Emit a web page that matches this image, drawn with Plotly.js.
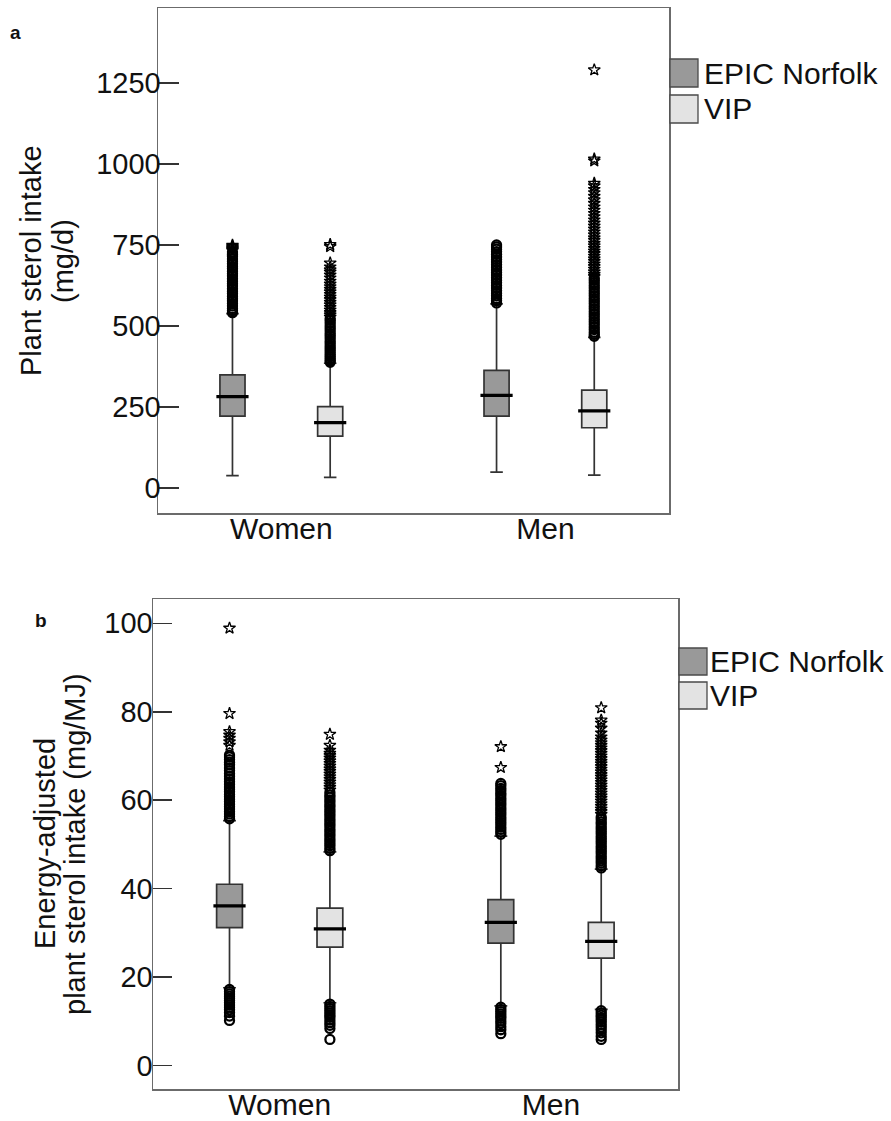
<!DOCTYPE html>
<html>
<head>
<meta charset="utf-8">
<script src="https://cdn.plot.ly/plotly-3.0.1.min.js"></script>
<style>html,body{margin:0;padding:0;background:#fff;}#chart{width:891px;height:1121px;}</style>
</head>
<body>
<div id="chart"></div>
<script>
// ---------- DATA ----------
const categories = ['Women', 'Men'];
const groups = ['EPIC Norfolk', 'VIP'];

// Panel a: plant sterol intake (mg/d)
const aEpicQ1 = [222, 222];
const aEpicMedian = [282, 286];
const aEpicQ3 = [349, 363];
const aEpicLower = [38, 49];
const aEpicUpper = [538, 568];
const aVipQ1 = [160, 186];
const aVipMedian = [202, 238];
const aVipQ3 = [251, 302];
const aVipLower = [33, 40];
const aVipUpper = [385, 465];

// panel a outliers (circles) and extremes (asterisks)
const aWomenEpicOut = [541, 547, 554, 562, 569, 577, 584, 592, 600, 607, 615, 623, 630, 638, 646, 654, 661, 669, 677, 684, 692, 700, 707, 715, 722, 728];
const aWomenEpicExt = [733, 737, 741, 745, 749];
const aWomenVipOut = [388, 393, 399, 405, 411, 418, 425, 432, 439, 447, 454, 462, 470, 477, 485, 493, 501, 509, 517, 523];
const aWomenVipExt = [527, 534, 541, 549, 557, 565, 573, 581, 589, 597, 605, 613, 621, 629, 638, 648, 657, 666, 673, 682, 694, 745, 751];
const aMenEpicOut = [571, 578, 585, 593, 601, 609, 617, 625, 633, 641, 649, 657, 665, 673, 681, 689, 697, 705, 713, 721, 729, 737, 744, 750];
const aMenVipOut = [468, 474, 481, 489, 497, 505, 513, 521, 529, 537, 545, 553, 561, 569, 577, 585, 593, 601, 609, 617, 625, 633, 641, 648];
const aMenVipExt = [652, 659, 667, 675, 683, 691, 699, 707, 715, 723, 731, 739, 747, 755, 764, 772, 781, 790, 799, 808, 817, 827, 837, 847, 857, 867, 878, 889, 900, 911, 921, 932, 940, 1009, 1015, 1290];

// Panel b: energy-adjusted plant sterol intake (mg/MJ)
const bEpicQ1 = [31.2, 27.7];
const bEpicMedian = [36.1, 32.4];
const bEpicQ3 = [41.0, 37.5];
const bEpicLower = [17.6, 13.5];
const bEpicUpper = [55.4, 51.9];
const bVipQ1 = [26.8, 24.3];
const bVipMedian = [30.9, 28.1];
const bVipQ3 = [35.6, 32.4];
const bVipLower = [14.2, 12.7];
const bVipUpper = [48.3, 44.4];

const bWomenEpicOut = [55.8, 56.3, 56.9, 57.4, 58.0, 58.5, 59.1, 59.7, 60.2, 60.8, 61.3, 61.9, 62.5, 63.0, 63.6, 64.2, 64.8, 65.4, 66.0, 66.7, 67.3, 68.0, 68.6, 69.2, 69.8, 70.2,
                       17.2, 16.7, 16.2, 15.7, 15.2, 14.7, 14.2, 13.7, 13.2, 12.6, 12.0, 11.2, 10.2];
const bWomenEpicExt = [72.4, 73.2, 74.0, 74.7, 75.5, 79.6, 98.9];
const bWomenVipOut = [48.6, 49.1, 49.7, 50.2, 50.8, 51.3, 51.9, 52.4, 53.0, 53.5, 54.1, 54.6, 55.2, 55.7, 56.3, 56.8, 57.4, 57.9, 58.5, 59.0, 59.6, 60.1, 60.7, 61.2, 61.8,
                      13.9, 13.4, 12.9, 12.4, 11.9, 11.4, 10.9, 10.3, 9.7, 9.1, 8.4, 5.9];
const bWomenVipExt = [62.3, 62.9, 63.5, 64.1, 64.7, 65.3, 65.9, 66.5, 67.1, 67.7, 68.3, 68.9, 69.5, 70.1, 70.6, 71.3, 72.4, 74.9];
const bMenEpicOut = [52.3, 52.8, 53.4, 53.9, 54.5, 55.0, 55.6, 56.1, 56.7, 57.2, 57.8, 58.3, 58.9, 59.4, 60.0, 60.5, 61.1, 61.6, 62.2, 62.7, 63.3, 63.8,
                     13.2, 12.7, 12.2, 11.7, 11.2, 10.7, 10.1, 9.5, 8.8, 8.1, 7.2];
const bMenEpicExt = [67.4, 72.1];
const bMenVipOut = [44.7, 45.2, 45.8, 46.3, 46.9, 47.4, 48.0, 48.5, 49.1, 49.6, 50.2, 50.7, 51.3, 51.8, 52.4, 52.9, 53.5, 54.0, 54.6, 55.1, 55.7, 56.2,
                    12.4, 11.9, 11.4, 10.9, 10.4, 9.9, 9.3, 8.7, 8.1, 7.4, 6.6, 5.9];
const bMenVipExt = [56.8, 57.4, 58.0, 58.6, 59.2, 59.8, 60.4, 61.0, 61.6, 62.2, 62.8, 63.4, 64.0, 64.6, 65.2, 65.8, 66.4, 67.0, 67.6, 68.2, 68.8, 69.4, 70.0, 70.6, 71.2, 71.8, 72.4, 73.0, 73.6, 74.3, 75.2, 76.3, 77.4, 78.1, 80.9];

const aTicks = [0, 250, 500, 750, 1000, 1250];
const bTicks = [0, 20, 40, 60, 80, 100];
const aTitleLines = ['Plant sterol intake', '(mg/d)'];
const bTitleLines = ['Energy-adjusted', 'plant sterol intake (mg/MJ)'];

// ---------- STYLE ----------
const W = 891, H = 1121;
const FONT = 'Liberation Sans, Arial, sans-serif';
const epicColor = '#999999';
const vipColor = '#e3e3e3';
const boxLine = '#333333';
const frameColor = '#6b6b6b';
const groupOffset = [-0.185, 0.185];
const boxWidth = 0.095;
const px2x = p => p / W;
const px2y = p => 1 - p / H;

const traces = [];

function addPanel(xa, ya, stats, outs, exts) {
  stats.forEach((s, g) => {
    const xs = categories.map((c, i) => i + groupOffset[g]);
    traces.push({
      type: 'box', xaxis: xa, yaxis: ya, x: xs,
      q1: s.q1, median: s.med, q3: s.q3, lowerfence: s.lo, upperfence: s.hi,
      width: boxWidth, whiskerwidth: 0.5, boxpoints: false,
      fillcolor: g === 0 ? epicColor : vipColor,
      line: {color: boxLine, width: 1.7},
      name: groups[g], showlegend: false, hoverinfo: 'skip'
    });
  });
  outs.forEach((perCat, g) => {
    const xs = [], ys = [];
    perCat.forEach((arr, i) => arr.forEach(v => { xs.push(i + groupOffset[g]); ys.push(v); }));
    traces.push({
      type: 'scatter', mode: 'markers', xaxis: xa, yaxis: ya, x: xs, y: ys,
      marker: {symbol: 'circle-open', size: 9, color: '#000', line: {color: '#000', width: 2.3}},
      showlegend: false, hoverinfo: 'skip', cliponaxis: false
    });
  });
  exts.forEach((perCat, g) => {
    const xs = [], ys = [];
    perCat.forEach((arr, i) => arr.forEach(v => { xs.push(i + groupOffset[g]); ys.push(v); }));
    traces.push({
      type: 'scatter', mode: 'markers', xaxis: xa, yaxis: ya, x: xs, y: ys,
      marker: {symbol: 'star-open', size: 9, color: '#000', line: {color: '#000', width: 1.3}},
      showlegend: false, hoverinfo: 'skip', cliponaxis: false
    });
  });
  stats.forEach((s, g) => {
    traces.push({
      type: 'scatter', mode: 'markers', xaxis: xa, yaxis: ya,
      x: categories.map((c, i) => i + groupOffset[g]), y: s.med,
      marker: {symbol: 'line-ew', size: 23, color: '#000', line: {color: '#000', width: 3.2}},
      showlegend: false, hoverinfo: 'skip'
    });
  });
}

addPanel('x', 'y',
  [{q1: aEpicQ1, med: aEpicMedian, q3: aEpicQ3, lo: aEpicLower, hi: aEpicUpper},
   {q1: aVipQ1, med: aVipMedian, q3: aVipQ3, lo: aVipLower, hi: aVipUpper}],
  [[aWomenEpicOut, aMenEpicOut], [aWomenVipOut, aMenVipOut]],
  [[aWomenEpicExt, []], [aWomenVipExt, aMenVipExt]]);

addPanel('x2', 'y2',
  [{q1: bEpicQ1, med: bEpicMedian, q3: bEpicQ3, lo: bEpicLower, hi: bEpicUpper},
   {q1: bVipQ1, med: bVipMedian, q3: bVipQ3, lo: bVipLower, hi: bVipUpper}],
  [[bWomenEpicOut, bMenEpicOut], [bWomenVipOut, bMenVipOut]],
  [[bWomenEpicExt, bMenEpicExt], [bWomenVipExt, bMenVipExt]]);

const xCommon = {
  range: [-0.467, 1.468], tickvals: [0, 1], ticktext: categories, ticks: '',
  showgrid: false, zeroline: false, showline: true, mirror: true,
  linecolor: frameColor, linewidth: 1.5, tickfont: {family: FONT, size: 30, color: '#111'},
  ticklabelstandoff: -12, automargin: false, fixedrange: true
};
const yCommon = {
  showgrid: false, zeroline: false, showline: true, mirror: true,
  linecolor: frameColor, linewidth: 1.5, ticks: 'inside', tickcolor: '#333', tickwidth: 1.5,
  tickfont: {family: FONT, size: 29, color: '#111'},
  automargin: false, fixedrange: true
};

function legendItems(x0, yTop, step, sw, sh, textX) {
  const shapes = [], ann = [];
  groups.forEach((g, k) => {
    const y0 = yTop + k * step;
    shapes.push({type: 'rect', xref: 'paper', yref: 'paper',
      x0: px2x(x0), x1: px2x(x0 + sw), y0: px2y(y0), y1: px2y(y0 + sh),
      fillcolor: k === 0 ? epicColor : vipColor, line: {color: '#4a4a4a', width: 1.3}});
    ann.push({xref: 'paper', yref: 'paper', x: px2x(textX), y: px2y(y0 + sh / 2),
      xanchor: 'left', yanchor: 'middle', showarrow: false, text: g,
      font: {family: FONT, size: 30, color: '#111'}});
  });
  return {shapes, ann};
}
const legA = legendItems(670, 59, 36, 28, 28, 702);
const legB = legendItems(679, 648, 34, 28, 27, 708);

// y-axis titles (two lines each, tighter line spacing than Plotly's default)
function titleLines(lines, xs, yc) {
  return lines.map((t, k) => ({
    xref: 'paper', yref: 'paper', x: px2x(xs[k]), y: px2y(yc), xanchor: 'center', yanchor: 'middle',
    textangle: -90, showarrow: false, text: t, font: {family: FONT, size: 29, color: '#111'}
  }));
}

const layout = {
  width: W, height: H, margin: {l: 0, r: 0, t: 0, b: 0},
  paper_bgcolor: '#fff', plot_bgcolor: '#fff', showlegend: false,
  font: {family: FONT, color: '#111'},
  xaxis: Object.assign({}, xCommon, {domain: [px2x(158), px2x(669)], anchor: 'y'}),
  yaxis: Object.assign({}, yCommon, {domain: [px2y(513), px2y(8)], anchor: 'x',
    range: [-77, 1481], tickvals: aTicks, ticklen: 21, ticklabelstandoff: -10}),
  xaxis2: Object.assign({}, xCommon, {domain: [px2x(153), px2x(678)], anchor: 'y2'}),
  yaxis2: Object.assign({}, yCommon, {domain: [px2y(1089), px2y(599)], anchor: 'x2',
    range: [-5.3, 105.5], tickvals: bTicks, ticklen: 19, ticklabelstandoff: -7}),
  shapes: legA.shapes.concat(legB.shapes),
  annotations: legA.ann.concat(legB.ann)
    .concat(titleLines(aTitleLines, [31, 63], 261))
    .concat(titleLines(bTitleLines, [45, 75], 844))
    .concat([
    {xref: 'paper', yref: 'paper', x: px2x(15), y: px2y(32), xanchor: 'center', yanchor: 'middle',
     showarrow: false, text: '<b>a</b>', font: {family: FONT, size: 19, color: '#111'}},
    {xref: 'paper', yref: 'paper', x: px2x(41), y: px2y(620), xanchor: 'center', yanchor: 'middle',
     showarrow: false, text: '<b>b</b>', font: {family: FONT, size: 19, color: '#111'}}
  ])
};

Plotly.newPlot('chart', traces, layout, {displayModeBar: false, staticPlot: true});
</script>
</body>
</html>
